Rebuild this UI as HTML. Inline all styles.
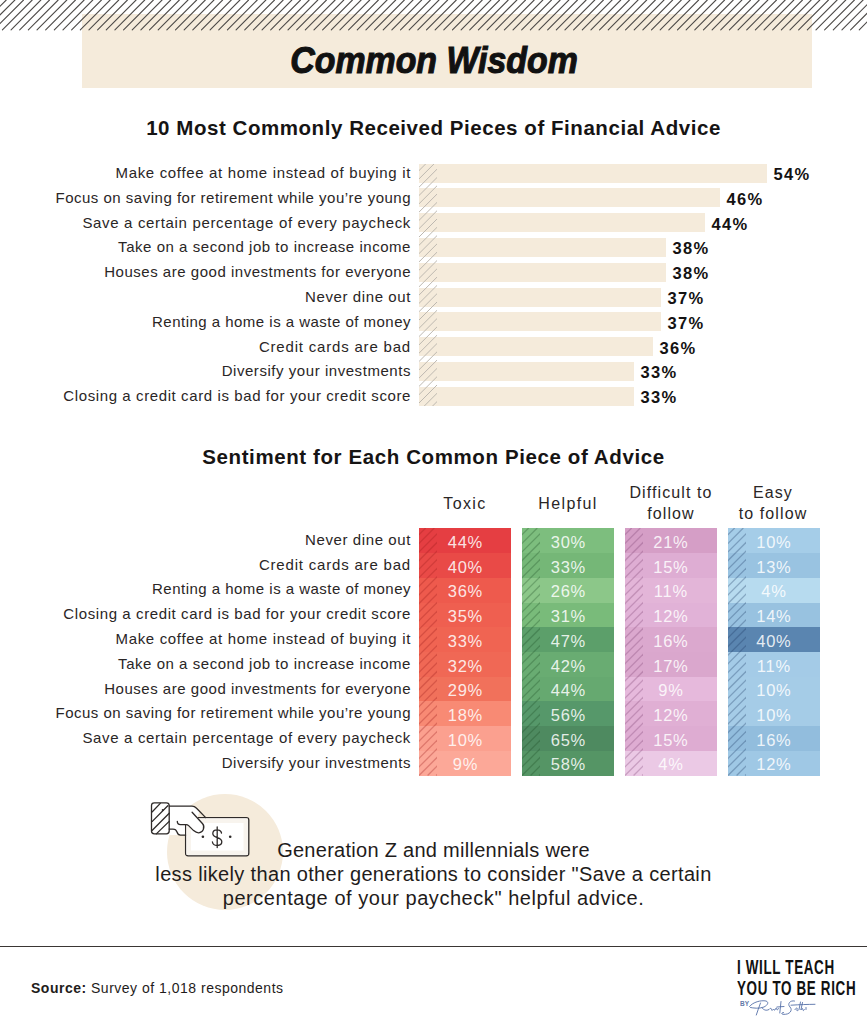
<!DOCTYPE html>
<html><head><meta charset="utf-8">
<style>
html,body{margin:0;padding:0;background:#fff;}
body{width:867px;height:1024px;position:relative;overflow:hidden;font-family:"Liberation Sans",sans-serif;color:#1f1c1b;}
.a{position:absolute;white-space:nowrap;}
.lab{position:absolute;right:456px;font-size:15px;letter-spacing:0.6px;line-height:20px;color:#2a2626;}
.pct{position:absolute;font-size:16.5px;font-weight:bold;letter-spacing:1.3px;line-height:20px;color:#141212;}
.cell{position:absolute;width:92px;height:25px;}
.ct{position:absolute;left:0;width:92px;top:1.5px;line-height:25px;text-align:center;color:rgba(255,255,255,0.86);font-size:16.5px;letter-spacing:0.8px;text-indent:0.8px;}
.hd{position:absolute;font-size:16px;letter-spacing:1.1px;line-height:20px;text-align:center;color:#2a2626;}
</style></head><body>

<div class="a" style="left:82px;top:14px;width:730px;height:74px;background:#F5EBDB;"></div>
<svg class="a" style="left:0;top:0" width="867" height="32"><g stroke="#4d4a48" stroke-width="1.1" stroke-linecap="round"><line x1="-40.88" y1="29.8" x2="-11.07" y2="0"/><line x1="-32.22" y1="29.8" x2="-2.42" y2="0"/><line x1="-23.56" y1="29.8" x2="6.24" y2="0"/><line x1="-14.91" y1="29.8" x2="14.89" y2="0"/><line x1="-6.25" y1="29.8" x2="23.55" y2="0"/><line x1="2.40" y1="29.8" x2="32.20" y2="0"/><line x1="11.05" y1="29.8" x2="40.86" y2="0"/><line x1="19.71" y1="29.8" x2="49.51" y2="0"/><line x1="28.36" y1="29.8" x2="58.16" y2="0"/><line x1="37.02" y1="29.8" x2="66.82" y2="0"/><line x1="45.67" y1="29.8" x2="75.47" y2="0"/><line x1="54.33" y1="29.8" x2="84.13" y2="0"/><line x1="62.98" y1="29.8" x2="92.78" y2="0"/><line x1="71.64" y1="29.8" x2="101.44" y2="0"/><line x1="80.30" y1="29.8" x2="110.09" y2="0"/><line x1="88.95" y1="29.8" x2="118.75" y2="0"/><line x1="97.61" y1="29.8" x2="127.41" y2="0"/><line x1="106.26" y1="29.8" x2="136.06" y2="0"/><line x1="114.91" y1="29.8" x2="144.72" y2="0"/><line x1="123.57" y1="29.8" x2="153.37" y2="0"/><line x1="132.22" y1="29.8" x2="162.03" y2="0"/><line x1="140.88" y1="29.8" x2="170.68" y2="0"/><line x1="149.53" y1="29.8" x2="179.34" y2="0"/><line x1="158.19" y1="29.8" x2="187.99" y2="0"/><line x1="166.84" y1="29.8" x2="196.65" y2="0"/><line x1="175.50" y1="29.8" x2="205.30" y2="0"/><line x1="184.16" y1="29.8" x2="213.96" y2="0"/><line x1="192.81" y1="29.8" x2="222.61" y2="0"/><line x1="201.47" y1="29.8" x2="231.27" y2="0"/><line x1="210.12" y1="29.8" x2="239.92" y2="0"/><line x1="218.77" y1="29.8" x2="248.57" y2="0"/><line x1="227.43" y1="29.8" x2="257.23" y2="0"/><line x1="236.08" y1="29.8" x2="265.88" y2="0"/><line x1="244.74" y1="29.8" x2="274.54" y2="0"/><line x1="253.39" y1="29.8" x2="283.19" y2="0"/><line x1="262.05" y1="29.8" x2="291.85" y2="0"/><line x1="270.70" y1="29.8" x2="300.50" y2="0"/><line x1="279.36" y1="29.8" x2="309.16" y2="0"/><line x1="288.01" y1="29.8" x2="317.81" y2="0"/><line x1="296.67" y1="29.8" x2="326.47" y2="0"/><line x1="305.32" y1="29.8" x2="335.12" y2="0"/><line x1="313.98" y1="29.8" x2="343.78" y2="0"/><line x1="322.63" y1="29.8" x2="352.43" y2="0"/><line x1="331.29" y1="29.8" x2="361.09" y2="0"/><line x1="339.94" y1="29.8" x2="369.74" y2="0"/><line x1="348.60" y1="29.8" x2="378.40" y2="0"/><line x1="357.25" y1="29.8" x2="387.05" y2="0"/><line x1="365.91" y1="29.8" x2="395.71" y2="0"/><line x1="374.56" y1="29.8" x2="404.36" y2="0"/><line x1="383.22" y1="29.8" x2="413.02" y2="0"/><line x1="391.87" y1="29.8" x2="421.67" y2="0"/><line x1="400.53" y1="29.8" x2="430.33" y2="0"/><line x1="409.18" y1="29.8" x2="438.98" y2="0"/><line x1="417.84" y1="29.8" x2="447.64" y2="0"/><line x1="426.49" y1="29.8" x2="456.29" y2="0"/><line x1="435.15" y1="29.8" x2="464.95" y2="0"/><line x1="443.80" y1="29.8" x2="473.60" y2="0"/><line x1="452.46" y1="29.8" x2="482.26" y2="0"/><line x1="461.11" y1="29.8" x2="490.91" y2="0"/><line x1="469.77" y1="29.8" x2="499.57" y2="0"/><line x1="478.42" y1="29.8" x2="508.22" y2="0"/><line x1="487.08" y1="29.8" x2="516.88" y2="0"/><line x1="495.73" y1="29.8" x2="525.53" y2="0"/><line x1="504.39" y1="29.8" x2="534.19" y2="0"/><line x1="513.04" y1="29.8" x2="542.84" y2="0"/><line x1="521.70" y1="29.8" x2="551.50" y2="0"/><line x1="530.35" y1="29.8" x2="560.15" y2="0"/><line x1="539.01" y1="29.8" x2="568.81" y2="0"/><line x1="547.66" y1="29.8" x2="577.46" y2="0"/><line x1="556.32" y1="29.8" x2="586.12" y2="0"/><line x1="564.97" y1="29.8" x2="594.77" y2="0"/><line x1="573.63" y1="29.8" x2="603.43" y2="0"/><line x1="582.28" y1="29.8" x2="612.08" y2="0"/><line x1="590.94" y1="29.8" x2="620.74" y2="0"/><line x1="599.59" y1="29.8" x2="629.39" y2="0"/><line x1="608.25" y1="29.8" x2="638.05" y2="0"/><line x1="616.90" y1="29.8" x2="646.70" y2="0"/><line x1="625.56" y1="29.8" x2="655.36" y2="0"/><line x1="634.21" y1="29.8" x2="664.01" y2="0"/><line x1="642.87" y1="29.8" x2="672.67" y2="0"/><line x1="651.52" y1="29.8" x2="681.32" y2="0"/><line x1="660.18" y1="29.8" x2="689.98" y2="0"/><line x1="668.83" y1="29.8" x2="698.63" y2="0"/><line x1="677.49" y1="29.8" x2="707.29" y2="0"/><line x1="686.14" y1="29.8" x2="715.94" y2="0"/><line x1="694.80" y1="29.8" x2="724.60" y2="0"/><line x1="703.45" y1="29.8" x2="733.25" y2="0"/><line x1="712.11" y1="29.8" x2="741.91" y2="0"/><line x1="720.76" y1="29.8" x2="750.56" y2="0"/><line x1="729.42" y1="29.8" x2="759.22" y2="0"/><line x1="738.07" y1="29.8" x2="767.87" y2="0"/><line x1="746.73" y1="29.8" x2="776.53" y2="0"/><line x1="755.38" y1="29.8" x2="785.18" y2="0"/><line x1="764.04" y1="29.8" x2="793.84" y2="0"/><line x1="772.69" y1="29.8" x2="802.49" y2="0"/><line x1="781.35" y1="29.8" x2="811.15" y2="0"/><line x1="790.00" y1="29.8" x2="819.80" y2="0"/><line x1="798.66" y1="29.8" x2="828.46" y2="0"/><line x1="807.31" y1="29.8" x2="837.11" y2="0"/><line x1="815.97" y1="29.8" x2="845.77" y2="0"/><line x1="824.62" y1="29.8" x2="854.42" y2="0"/><line x1="833.28" y1="29.8" x2="863.08" y2="0"/><line x1="841.93" y1="29.8" x2="871.73" y2="0"/><line x1="850.59" y1="29.8" x2="880.39" y2="0"/><line x1="859.24" y1="29.8" x2="889.04" y2="0"/><line x1="867.90" y1="29.8" x2="897.70" y2="0"/></g></svg>
<div class="a" style="left:290px;width:288px;top:36px;text-align:center;line-height:50px;"><span style="display:inline-block;font-size:37px;font-weight:bold;font-style:italic;color:#111;-webkit-text-stroke:1.1px #111;transform:scaleX(0.915);transform-origin:50% 50%;margin-left:-20px;margin-right:-20px;">Common Wisdom</span></div>
<div class="a" style="left:0;width:867px;top:115px;text-align:center;font-size:20.5px;font-weight:bold;letter-spacing:0.55px;line-height:26px;color:#161414;">10 Most Commonly Received Pieces of Financial Advice</div>
<div class="lab" style="top:163.0px;letter-spacing:0.66px">Make coffee at home instead of buying it</div>
<div class="a" style="left:419px;top:163.5px;width:348px;height:19px;background:#F5EBDB;"></div>
<div class="pct" style="left:773.5px;top:163.9px">54%</div>
<div class="lab" style="top:187.8px;letter-spacing:0.50px">Focus on saving for retirement while you’re young</div>
<div class="a" style="left:419px;top:188.3px;width:301px;height:19px;background:#F5EBDB;"></div>
<div class="pct" style="left:726.5px;top:188.7px">46%</div>
<div class="lab" style="top:212.6px;letter-spacing:0.66px">Save a certain percentage of every paycheck</div>
<div class="a" style="left:419px;top:213.1px;width:286px;height:19px;background:#F5EBDB;"></div>
<div class="pct" style="left:711.5px;top:213.5px">44%</div>
<div class="lab" style="top:237.4px;letter-spacing:0.54px">Take on a second job to increase income</div>
<div class="a" style="left:419px;top:237.9px;width:247px;height:19px;background:#F5EBDB;"></div>
<div class="pct" style="left:672.5px;top:238.3px">38%</div>
<div class="lab" style="top:262.2px;letter-spacing:0.52px">Houses are good investments for everyone</div>
<div class="a" style="left:419px;top:262.7px;width:247px;height:19px;background:#F5EBDB;"></div>
<div class="pct" style="left:672.5px;top:263.1px">38%</div>
<div class="lab" style="top:287.0px;letter-spacing:0.60px">Never dine out</div>
<div class="a" style="left:419px;top:287.5px;width:242px;height:19px;background:#F5EBDB;"></div>
<div class="pct" style="left:667.5px;top:287.9px">37%</div>
<div class="lab" style="top:311.8px;letter-spacing:0.48px">Renting a home is a waste of money</div>
<div class="a" style="left:419px;top:312.3px;width:242px;height:19px;background:#F5EBDB;"></div>
<div class="pct" style="left:667.5px;top:312.7px">37%</div>
<div class="lab" style="top:336.6px;letter-spacing:0.81px">Credit cards are bad</div>
<div class="a" style="left:419px;top:337.1px;width:234px;height:19px;background:#F5EBDB;"></div>
<div class="pct" style="left:659.5px;top:337.5px">36%</div>
<div class="lab" style="top:361.4px;letter-spacing:0.55px">Diversify your investments</div>
<div class="a" style="left:419px;top:361.9px;width:215px;height:19px;background:#F5EBDB;"></div>
<div class="pct" style="left:640.5px;top:362.3px">33%</div>
<div class="lab" style="top:386.2px;letter-spacing:0.60px">Closing a credit card is bad for your credit score</div>
<div class="a" style="left:419px;top:386.7px;width:215px;height:19px;background:#F5EBDB;"></div>
<div class="pct" style="left:640.5px;top:387.1px">33%</div>
<svg class="a" style="left:419px;top:163.5px" width="17.8" height="242"><g stroke="#BDB8B0" stroke-width="1.0" stroke-linecap="butt"><line x1="-252.00" y1="242" x2="-10.00" y2="0"/><line x1="-243.70" y1="242" x2="-1.70" y2="0"/><line x1="-235.40" y1="242" x2="6.60" y2="0"/><line x1="-227.10" y1="242" x2="14.90" y2="0"/><line x1="-218.80" y1="242" x2="23.20" y2="0"/><line x1="-210.50" y1="242" x2="31.50" y2="0"/><line x1="-202.20" y1="242" x2="39.80" y2="0"/><line x1="-193.90" y1="242" x2="48.10" y2="0"/><line x1="-185.60" y1="242" x2="56.40" y2="0"/><line x1="-177.30" y1="242" x2="64.70" y2="0"/><line x1="-169.00" y1="242" x2="73.00" y2="0"/><line x1="-160.70" y1="242" x2="81.30" y2="0"/><line x1="-152.40" y1="242" x2="89.60" y2="0"/><line x1="-144.10" y1="242" x2="97.90" y2="0"/><line x1="-135.80" y1="242" x2="106.20" y2="0"/><line x1="-127.50" y1="242" x2="114.50" y2="0"/><line x1="-119.20" y1="242" x2="122.80" y2="0"/><line x1="-110.90" y1="242" x2="131.10" y2="0"/><line x1="-102.60" y1="242" x2="139.40" y2="0"/><line x1="-94.30" y1="242" x2="147.70" y2="0"/><line x1="-86.00" y1="242" x2="156.00" y2="0"/><line x1="-77.70" y1="242" x2="164.30" y2="0"/><line x1="-69.40" y1="242" x2="172.60" y2="0"/><line x1="-61.10" y1="242" x2="180.90" y2="0"/><line x1="-52.80" y1="242" x2="189.20" y2="0"/><line x1="-44.50" y1="242" x2="197.50" y2="0"/><line x1="-36.20" y1="242" x2="205.80" y2="0"/><line x1="-27.90" y1="242" x2="214.10" y2="0"/><line x1="-19.60" y1="242" x2="222.40" y2="0"/><line x1="-11.30" y1="242" x2="230.70" y2="0"/><line x1="-3.00" y1="242" x2="239.00" y2="0"/><line x1="5.30" y1="242" x2="247.30" y2="0"/><line x1="13.60" y1="242" x2="255.60" y2="0"/></g></svg>
<div class="a" style="left:0;width:867px;top:444px;text-align:center;font-size:20.5px;font-weight:bold;letter-spacing:0.6px;line-height:26px;color:#161414;">Sentiment for Each Common Piece of Advice</div>
<div class="hd" style="left:415px;width:100px;top:494px;letter-spacing:1.4px">Toxic</div>
<div class="hd" style="left:518px;width:100px;top:494px;letter-spacing:1.4px">Helpful</div>
<div class="hd" style="left:616px;width:110px;top:483.3px;line-height:20.6px">Difficult to<br>follow</div>
<div class="hd" style="left:718px;width:110px;top:483.3px;line-height:20.6px">Easy<br>to follow</div>
<div class="lab" style="top:529.7px;letter-spacing:0.60px">Never dine out</div>
<div class="lab" style="top:554.5px;letter-spacing:0.81px">Credit cards are bad</div>
<div class="lab" style="top:579.3px;letter-spacing:0.48px">Renting a home is a waste of money</div>
<div class="lab" style="top:604.1px;letter-spacing:0.60px">Closing a credit card is bad for your credit score</div>
<div class="lab" style="top:628.9px;letter-spacing:0.66px">Make coffee at home instead of buying it</div>
<div class="lab" style="top:653.7px;letter-spacing:0.54px">Take on a second job to increase income</div>
<div class="lab" style="top:678.5px;letter-spacing:0.52px">Houses are good investments for everyone</div>
<div class="lab" style="top:703.3px;letter-spacing:0.50px">Focus on saving for retirement while you’re young</div>
<div class="lab" style="top:728.1px;letter-spacing:0.66px">Save a certain percentage of every paycheck</div>
<div class="lab" style="top:752.9px;letter-spacing:0.55px">Diversify your investments</div>
<div class="cell" style="left:419px;top:528.30px;height:25.04px;background:#E53E42"><div class="ct" style="line-height:24.74px">44%</div></div>
<div class="cell" style="left:419px;top:553.04px;height:25.04px;background:#E94A47"><div class="ct" style="line-height:24.74px">40%</div></div>
<div class="cell" style="left:419px;top:577.78px;height:25.04px;background:#EE5A4D"><div class="ct" style="line-height:24.74px">36%</div></div>
<div class="cell" style="left:419px;top:602.52px;height:25.04px;background:#EF5F50"><div class="ct" style="line-height:24.74px">35%</div></div>
<div class="cell" style="left:419px;top:627.26px;height:25.04px;background:#F06452"><div class="ct" style="line-height:24.74px">33%</div></div>
<div class="cell" style="left:419px;top:652.00px;height:25.04px;background:#F06855"><div class="ct" style="line-height:24.74px">32%</div></div>
<div class="cell" style="left:419px;top:676.74px;height:25.04px;background:#F1715B"><div class="ct" style="line-height:24.74px">29%</div></div>
<div class="cell" style="left:419px;top:701.48px;height:25.04px;background:#F88A74"><div class="ct" style="line-height:24.74px">18%</div></div>
<div class="cell" style="left:419px;top:726.22px;height:25.04px;background:#FBA08F"><div class="ct" style="line-height:24.74px">10%</div></div>
<div class="cell" style="left:419px;top:750.96px;height:25.04px;background:#FCA898"><div class="ct" style="line-height:24.74px">9%</div></div>
<svg class="a" style="left:419px;top:528.3px" width="18" height="247.5"><g stroke="rgba(160,30,30,0.32)" stroke-width="1.3" stroke-linecap="butt"><line x1="-258.00" y1="247.5" x2="-10.50" y2="0"/><line x1="-249.40" y1="247.5" x2="-1.90" y2="0"/><line x1="-240.80" y1="247.5" x2="6.70" y2="0"/><line x1="-232.20" y1="247.5" x2="15.30" y2="0"/><line x1="-223.60" y1="247.5" x2="23.90" y2="0"/><line x1="-215.00" y1="247.5" x2="32.50" y2="0"/><line x1="-206.40" y1="247.5" x2="41.10" y2="0"/><line x1="-197.80" y1="247.5" x2="49.70" y2="0"/><line x1="-189.20" y1="247.5" x2="58.30" y2="0"/><line x1="-180.60" y1="247.5" x2="66.90" y2="0"/><line x1="-172.00" y1="247.5" x2="75.50" y2="0"/><line x1="-163.40" y1="247.5" x2="84.10" y2="0"/><line x1="-154.80" y1="247.5" x2="92.70" y2="0"/><line x1="-146.20" y1="247.5" x2="101.30" y2="0"/><line x1="-137.60" y1="247.5" x2="109.90" y2="0"/><line x1="-129.00" y1="247.5" x2="118.50" y2="0"/><line x1="-120.40" y1="247.5" x2="127.10" y2="0"/><line x1="-111.80" y1="247.5" x2="135.70" y2="0"/><line x1="-103.20" y1="247.5" x2="144.30" y2="0"/><line x1="-94.60" y1="247.5" x2="152.90" y2="0"/><line x1="-86.00" y1="247.5" x2="161.50" y2="0"/><line x1="-77.40" y1="247.5" x2="170.10" y2="0"/><line x1="-68.80" y1="247.5" x2="178.70" y2="0"/><line x1="-60.20" y1="247.5" x2="187.30" y2="0"/><line x1="-51.60" y1="247.5" x2="195.90" y2="0"/><line x1="-43.00" y1="247.5" x2="204.50" y2="0"/><line x1="-34.40" y1="247.5" x2="213.10" y2="0"/><line x1="-25.80" y1="247.5" x2="221.70" y2="0"/><line x1="-17.20" y1="247.5" x2="230.30" y2="0"/><line x1="-8.60" y1="247.5" x2="238.90" y2="0"/><line x1="0.00" y1="247.5" x2="247.50" y2="0"/><line x1="8.60" y1="247.5" x2="256.10" y2="0"/><line x1="17.20" y1="247.5" x2="264.70" y2="0"/></g></svg>
<div class="cell" style="left:522px;top:528.30px;height:25.04px;background:#7DBE7E"><div class="ct" style="line-height:24.74px">30%</div></div>
<div class="cell" style="left:522px;top:553.04px;height:25.04px;background:#75B777"><div class="ct" style="line-height:24.74px">33%</div></div>
<div class="cell" style="left:522px;top:577.78px;height:25.04px;background:#8CC789"><div class="ct" style="line-height:24.74px">26%</div></div>
<div class="cell" style="left:522px;top:602.52px;height:25.04px;background:#79BB7A"><div class="ct" style="line-height:24.74px">31%</div></div>
<div class="cell" style="left:522px;top:627.26px;height:25.04px;background:#5C9F6A"><div class="ct" style="line-height:24.74px">47%</div></div>
<div class="cell" style="left:522px;top:652.00px;height:25.04px;background:#69AC72"><div class="ct" style="line-height:24.74px">42%</div></div>
<div class="cell" style="left:522px;top:676.74px;height:25.04px;background:#66A970"><div class="ct" style="line-height:24.74px">44%</div></div>
<div class="cell" style="left:522px;top:701.48px;height:25.04px;background:#56986A"><div class="ct" style="line-height:24.74px">56%</div></div>
<div class="cell" style="left:522px;top:726.22px;height:25.04px;background:#4E8A60"><div class="ct" style="line-height:24.74px">65%</div></div>
<div class="cell" style="left:522px;top:750.96px;height:25.04px;background:#559565"><div class="ct" style="line-height:24.74px">58%</div></div>
<svg class="a" style="left:522px;top:528.3px" width="18" height="247.5"><g stroke="rgba(20,70,30,0.28)" stroke-width="1.3" stroke-linecap="butt"><line x1="-258.00" y1="247.5" x2="-10.50" y2="0"/><line x1="-249.40" y1="247.5" x2="-1.90" y2="0"/><line x1="-240.80" y1="247.5" x2="6.70" y2="0"/><line x1="-232.20" y1="247.5" x2="15.30" y2="0"/><line x1="-223.60" y1="247.5" x2="23.90" y2="0"/><line x1="-215.00" y1="247.5" x2="32.50" y2="0"/><line x1="-206.40" y1="247.5" x2="41.10" y2="0"/><line x1="-197.80" y1="247.5" x2="49.70" y2="0"/><line x1="-189.20" y1="247.5" x2="58.30" y2="0"/><line x1="-180.60" y1="247.5" x2="66.90" y2="0"/><line x1="-172.00" y1="247.5" x2="75.50" y2="0"/><line x1="-163.40" y1="247.5" x2="84.10" y2="0"/><line x1="-154.80" y1="247.5" x2="92.70" y2="0"/><line x1="-146.20" y1="247.5" x2="101.30" y2="0"/><line x1="-137.60" y1="247.5" x2="109.90" y2="0"/><line x1="-129.00" y1="247.5" x2="118.50" y2="0"/><line x1="-120.40" y1="247.5" x2="127.10" y2="0"/><line x1="-111.80" y1="247.5" x2="135.70" y2="0"/><line x1="-103.20" y1="247.5" x2="144.30" y2="0"/><line x1="-94.60" y1="247.5" x2="152.90" y2="0"/><line x1="-86.00" y1="247.5" x2="161.50" y2="0"/><line x1="-77.40" y1="247.5" x2="170.10" y2="0"/><line x1="-68.80" y1="247.5" x2="178.70" y2="0"/><line x1="-60.20" y1="247.5" x2="187.30" y2="0"/><line x1="-51.60" y1="247.5" x2="195.90" y2="0"/><line x1="-43.00" y1="247.5" x2="204.50" y2="0"/><line x1="-34.40" y1="247.5" x2="213.10" y2="0"/><line x1="-25.80" y1="247.5" x2="221.70" y2="0"/><line x1="-17.20" y1="247.5" x2="230.30" y2="0"/><line x1="-8.60" y1="247.5" x2="238.90" y2="0"/><line x1="0.00" y1="247.5" x2="247.50" y2="0"/><line x1="8.60" y1="247.5" x2="256.10" y2="0"/><line x1="17.20" y1="247.5" x2="264.70" y2="0"/></g></svg>
<div class="cell" style="left:624.5px;top:528.30px;height:25.04px;background:#D59EC6"><div class="ct" style="line-height:24.74px">21%</div></div>
<div class="cell" style="left:624.5px;top:553.04px;height:25.04px;background:#DEADD3"><div class="ct" style="line-height:24.74px">15%</div></div>
<div class="cell" style="left:624.5px;top:577.78px;height:25.04px;background:#E3B5D8"><div class="ct" style="line-height:24.74px">11%</div></div>
<div class="cell" style="left:624.5px;top:602.52px;height:25.04px;background:#E1B2D7"><div class="ct" style="line-height:24.74px">12%</div></div>
<div class="cell" style="left:624.5px;top:627.26px;height:25.04px;background:#DBA8CE"><div class="ct" style="line-height:24.74px">16%</div></div>
<div class="cell" style="left:624.5px;top:652.00px;height:25.04px;background:#DAA7CD"><div class="ct" style="line-height:24.74px">17%</div></div>
<div class="cell" style="left:624.5px;top:676.74px;height:25.04px;background:#E6B9DC"><div class="ct" style="line-height:24.74px">9%</div></div>
<div class="cell" style="left:624.5px;top:701.48px;height:25.04px;background:#E0AFD4"><div class="ct" style="line-height:24.74px">12%</div></div>
<div class="cell" style="left:624.5px;top:726.22px;height:25.04px;background:#DEACD2"><div class="ct" style="line-height:24.74px">15%</div></div>
<div class="cell" style="left:624.5px;top:750.96px;height:25.04px;background:#EBC9E5"><div class="ct" style="line-height:24.74px">4%</div></div>
<svg class="a" style="left:624.5px;top:528.3px" width="18" height="247.5"><g stroke="rgba(110,50,100,0.28)" stroke-width="1.3" stroke-linecap="butt"><line x1="-258.00" y1="247.5" x2="-10.50" y2="0"/><line x1="-249.40" y1="247.5" x2="-1.90" y2="0"/><line x1="-240.80" y1="247.5" x2="6.70" y2="0"/><line x1="-232.20" y1="247.5" x2="15.30" y2="0"/><line x1="-223.60" y1="247.5" x2="23.90" y2="0"/><line x1="-215.00" y1="247.5" x2="32.50" y2="0"/><line x1="-206.40" y1="247.5" x2="41.10" y2="0"/><line x1="-197.80" y1="247.5" x2="49.70" y2="0"/><line x1="-189.20" y1="247.5" x2="58.30" y2="0"/><line x1="-180.60" y1="247.5" x2="66.90" y2="0"/><line x1="-172.00" y1="247.5" x2="75.50" y2="0"/><line x1="-163.40" y1="247.5" x2="84.10" y2="0"/><line x1="-154.80" y1="247.5" x2="92.70" y2="0"/><line x1="-146.20" y1="247.5" x2="101.30" y2="0"/><line x1="-137.60" y1="247.5" x2="109.90" y2="0"/><line x1="-129.00" y1="247.5" x2="118.50" y2="0"/><line x1="-120.40" y1="247.5" x2="127.10" y2="0"/><line x1="-111.80" y1="247.5" x2="135.70" y2="0"/><line x1="-103.20" y1="247.5" x2="144.30" y2="0"/><line x1="-94.60" y1="247.5" x2="152.90" y2="0"/><line x1="-86.00" y1="247.5" x2="161.50" y2="0"/><line x1="-77.40" y1="247.5" x2="170.10" y2="0"/><line x1="-68.80" y1="247.5" x2="178.70" y2="0"/><line x1="-60.20" y1="247.5" x2="187.30" y2="0"/><line x1="-51.60" y1="247.5" x2="195.90" y2="0"/><line x1="-43.00" y1="247.5" x2="204.50" y2="0"/><line x1="-34.40" y1="247.5" x2="213.10" y2="0"/><line x1="-25.80" y1="247.5" x2="221.70" y2="0"/><line x1="-17.20" y1="247.5" x2="230.30" y2="0"/><line x1="-8.60" y1="247.5" x2="238.90" y2="0"/><line x1="0.00" y1="247.5" x2="247.50" y2="0"/><line x1="8.60" y1="247.5" x2="256.10" y2="0"/><line x1="17.20" y1="247.5" x2="264.70" y2="0"/></g></svg>
<div class="cell" style="left:727.5px;top:528.30px;height:25.04px;background:#A5CDE8"><div class="ct" style="line-height:24.74px">10%</div></div>
<div class="cell" style="left:727.5px;top:553.04px;height:25.04px;background:#99C3E1"><div class="ct" style="line-height:24.74px">13%</div></div>
<div class="cell" style="left:727.5px;top:577.78px;height:25.04px;background:#B7DBEF"><div class="ct" style="line-height:24.74px">4%</div></div>
<div class="cell" style="left:727.5px;top:602.52px;height:25.04px;background:#98C2E0"><div class="ct" style="line-height:24.74px">14%</div></div>
<div class="cell" style="left:727.5px;top:627.26px;height:25.04px;background:#5A85B0"><div class="ct" style="line-height:24.74px">40%</div></div>
<div class="cell" style="left:727.5px;top:652.00px;height:25.04px;background:#A4CBE7"><div class="ct" style="line-height:24.74px">11%</div></div>
<div class="cell" style="left:727.5px;top:676.74px;height:25.04px;background:#A5CCE7"><div class="ct" style="line-height:24.74px">10%</div></div>
<div class="cell" style="left:727.5px;top:701.48px;height:25.04px;background:#A5CCE7"><div class="ct" style="line-height:24.74px">10%</div></div>
<div class="cell" style="left:727.5px;top:726.22px;height:25.04px;background:#92BDDD"><div class="ct" style="line-height:24.74px">16%</div></div>
<div class="cell" style="left:727.5px;top:750.96px;height:25.04px;background:#9FC8E5"><div class="ct" style="line-height:24.74px">12%</div></div>
<svg class="a" style="left:727.5px;top:528.3px" width="18" height="247.5"><g stroke="rgba(30,60,100,0.32)" stroke-width="1.3" stroke-linecap="butt"><line x1="-258.00" y1="247.5" x2="-10.50" y2="0"/><line x1="-249.40" y1="247.5" x2="-1.90" y2="0"/><line x1="-240.80" y1="247.5" x2="6.70" y2="0"/><line x1="-232.20" y1="247.5" x2="15.30" y2="0"/><line x1="-223.60" y1="247.5" x2="23.90" y2="0"/><line x1="-215.00" y1="247.5" x2="32.50" y2="0"/><line x1="-206.40" y1="247.5" x2="41.10" y2="0"/><line x1="-197.80" y1="247.5" x2="49.70" y2="0"/><line x1="-189.20" y1="247.5" x2="58.30" y2="0"/><line x1="-180.60" y1="247.5" x2="66.90" y2="0"/><line x1="-172.00" y1="247.5" x2="75.50" y2="0"/><line x1="-163.40" y1="247.5" x2="84.10" y2="0"/><line x1="-154.80" y1="247.5" x2="92.70" y2="0"/><line x1="-146.20" y1="247.5" x2="101.30" y2="0"/><line x1="-137.60" y1="247.5" x2="109.90" y2="0"/><line x1="-129.00" y1="247.5" x2="118.50" y2="0"/><line x1="-120.40" y1="247.5" x2="127.10" y2="0"/><line x1="-111.80" y1="247.5" x2="135.70" y2="0"/><line x1="-103.20" y1="247.5" x2="144.30" y2="0"/><line x1="-94.60" y1="247.5" x2="152.90" y2="0"/><line x1="-86.00" y1="247.5" x2="161.50" y2="0"/><line x1="-77.40" y1="247.5" x2="170.10" y2="0"/><line x1="-68.80" y1="247.5" x2="178.70" y2="0"/><line x1="-60.20" y1="247.5" x2="187.30" y2="0"/><line x1="-51.60" y1="247.5" x2="195.90" y2="0"/><line x1="-43.00" y1="247.5" x2="204.50" y2="0"/><line x1="-34.40" y1="247.5" x2="213.10" y2="0"/><line x1="-25.80" y1="247.5" x2="221.70" y2="0"/><line x1="-17.20" y1="247.5" x2="230.30" y2="0"/><line x1="-8.60" y1="247.5" x2="238.90" y2="0"/><line x1="0.00" y1="247.5" x2="247.50" y2="0"/><line x1="8.60" y1="247.5" x2="256.10" y2="0"/><line x1="17.20" y1="247.5" x2="264.70" y2="0"/></g></svg>
<div class="a" style="left:167px;top:794px;width:116px;height:116px;border-radius:50%;background:#F5EBDB;"></div>
<svg class="a" style="left:140px;top:790px" width="120" height="75" viewBox="0 0 120 75">
<rect x="45.6" y="27.6" width="63.2" height="38.2" rx="2.5" fill="#fff" stroke="#2e2a29" stroke-width="1.3"/>
<rect x="46.5" y="28.5" width="61.4" height="36.4" fill="#F8F4EE"/><rect x="51" y="33" width="52.5" height="27.5" fill="#fff"/>
<path d="M29.2 16.1 H53.4 L59.5 21.6 L57.5 27 L64 36 L58 43 L48.5 35 L44.9 35 V45.1 H29.2 Z" fill="#fff"/>
<rect x="11.5" y="12.8" width="17.7" height="31.1" rx="2.8" fill="#fff" stroke="#2e2a29" stroke-width="1.3"/>
<g fill="none" stroke="#2e2a29" stroke-width="1.3" stroke-linejoin="round" stroke-linecap="round">
<path d="M12.3 21.7 L20.3 13.4 M12.3 31.4 L27.8 15.7 M12.3 40.3 L29.2 23.3 M16.3 43.9 L29.2 31.4"/>
<path d="M29.2 16.1 H52 C54 16.1 55.2 16.8 56.3 18 L65.7 27.6"/>
<path d="M52.1 22.2 L62.6 33.8 C65.2 36.8 63.3 42.6 58.8 42.9 C56.8 43 55.2 42 53.6 40.6 L48.6 35.6 C48 35 47.3 34.6 46 34.6 H40.5 C38.5 34.6 37.3 33.3 37.3 31.3"/>
<path d="M29.2 39.1 H33 C35.5 39.1 36.5 40.5 37 42 C37.6 44 38.8 45.1 40.5 45.1 H45.6"/>
</g>
<circle cx="22.8" cy="20.1" r="1.1" fill="#2e2a29"/>
<path d="M81.5 43 C81 40.8 79.3 39.9 77.2 39.9 C74.5 39.9 72.8 41.5 72.8 43.6 C72.8 46 75 46.9 77.2 47.6 C79.6 48.3 81.8 49.3 81.8 51.8 C81.8 54.1 79.8 55.5 77.2 55.5 C74.8 55.5 72.8 54.3 72.4 52 M77.2 36.9 V57.6" fill="none" stroke="#2e2a29" stroke-width="1.3" stroke-linecap="round"/>
<circle cx="62.9" cy="46.8" r="1.3" fill="#2e2a29"/><circle cx="90.2" cy="46.8" r="1.3" fill="#2e2a29"/>
</svg>
<div class="a" style="left:0;width:867px;top:838px;text-align:center;font-size:20px;letter-spacing:0.28px;line-height:24px;color:#1f1c1b;">Generation Z and millennials were<br><span style="letter-spacing:0.34px">less likely than other generations to consider "Save a certain</span><br><span style="letter-spacing:0.55px">percentage of your paycheck" helpful advice.</span></div>
<div class="a" style="left:0;top:945.7px;width:867px;height:1.2px;background:#3a3634;"></div>
<div class="a" style="left:31px;top:979px;font-size:14px;letter-spacing:0.5px;line-height:18px;color:#1f1c1b;"><b>Source:</b> Survey of 1,018 respondents</div>
<div class="a" style="left:737px;top:957px;font-size:21px;font-weight:bold;letter-spacing:1px;line-height:20.5px;color:#111;transform:scaleX(0.64);transform-origin:0 0;">I WILL TEACH<br>YOU TO BE RICH</div>
<svg class="a" style="left:735px;top:995px" width="90" height="25" viewBox="0 0 90 25">
<text x="5" y="11.4" font-family="Liberation Sans" font-weight="bold" font-size="6.5" fill="#6479a8" transform="scale(1,1)">BY</text>
<g fill="none" stroke="#5670a8" stroke-width="0.9" stroke-linecap="round" stroke-linejoin="round">
<path d="M14.5 11.5 C 18 7, 26 5, 31 6 C 34 7, 33 10, 29 12 C 24 14, 18 13, 15.5 12.5"/>
<path d="M25.5 8 C 24 12, 22.5 16.5, 21.3 20"/>
<path d="M27 13 C 29 15, 31 16, 34 14.5 c1-1.5 2.5-1.5 2.5 0 c0 1.5 1 1 2-0.5 c0.7 1.5 1.5 1.5 2 0 c0.5-1.5 1.3-1.5 1.3 0 c0 1.5 1 1 1.8-0.5"/>
<path d="M46 6.5 L44.8 18 M42 12 L49 11.5"/>
<path d="M59.5 6 C 55 5, 52 9, 55 12 C 58 15, 55 20, 48 19.3 C 46 19, 46.5 17.5, 48.5 17.5"/>
<path d="M60 14.5 c1-2 3-2 2 0 c-1 1.5 1 1.5 2 0 l1.5-7.5 M67.5 7.5 l-1.6 7.5 c1-2 2.2-2 2 0 c0.3 1 1 0.5 1.5-0.5 M71 12.5 v2"/>
<path d="M56 10.2 C 65 9.6, 72 9.4, 80 9.3"/>
</g></svg>
</body></html>
